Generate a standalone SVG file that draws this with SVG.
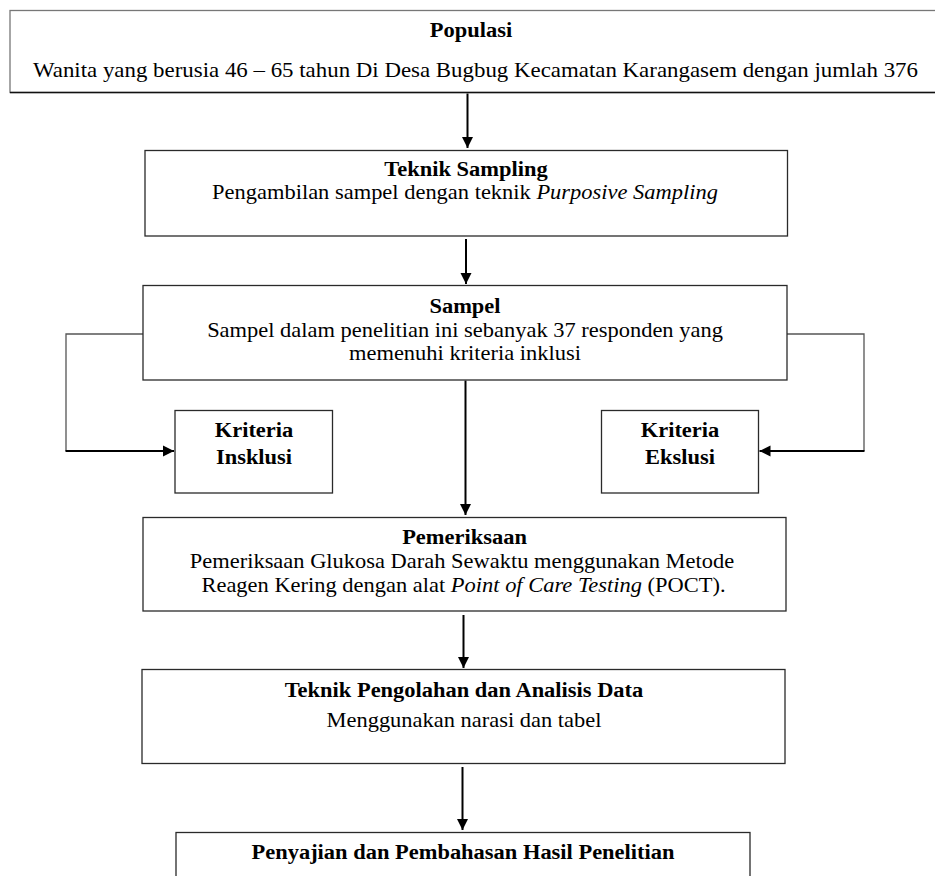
<svg xmlns="http://www.w3.org/2000/svg" width="935" height="876" viewBox="0 0 935 876">
<style>
  .box { fill: #ffffff; stroke: #2a2a2a; stroke-width: 1.3; }
  .t { font-family: "Liberation Serif", "Times New Roman", serif; font-size: 21px; fill: #000; text-anchor: middle; }
  .b { font-weight: bold; }
  .i { font-style: italic; }
  .arrow { stroke: #000; stroke-width: 2; fill: none; marker-end: url(#ah); }
  .side { stroke: #555; stroke-width: 1.3; fill: none; }
</style>
<defs>
  <marker id="ah" markerUnits="userSpaceOnUse" markerWidth="12" markerHeight="12" refX="11" refY="5.5" orient="auto" viewBox="0 0 12 11">
    <path d="M0,0 L11,5.5 L0,11 z" fill="#000"/>
  </marker>
</defs>
<rect width="935" height="876" fill="#ffffff"/>

<g id="connectors">
  <line class="arrow" x1="467.5" y1="93.5" x2="467.5" y2="148"/>
  <line class="arrow" x1="466" y1="239" x2="466" y2="284"/>
  <line class="arrow" x1="465.5" y1="380.5" x2="465.5" y2="515"/>
  <line class="arrow" x1="463.5" y1="615" x2="463.5" y2="668"/>
  <line class="arrow" x1="462.5" y1="767" x2="462.5" y2="830"/>
  <polyline class="side" points="143,334 66,334 66,451"/>
  <line class="arrow" x1="65.5" y1="451" x2="174" y2="451"/>
  <polyline class="side" points="787,334 864,334 864,451"/>
  <line class="arrow" x1="864.5" y1="451" x2="759.5" y2="451"/>
</g>

<g id="populasi">
  <rect class="box" x="10" y="10.5" width="940" height="82" style="stroke:#777"/>
  <line x1="10" y1="92.5" x2="935" y2="92.5" stroke="#111" stroke-width="1.6"/>
  <text class="t b" transform="translate(471,37) scale(1.07,1)">Populasi</text>
  <text class="t" x="475.5" y="77" textLength="885" lengthAdjust="spacingAndGlyphs">Wanita yang berusia 46 – 65 tahun Di Desa Bugbug Kecamatan Karangasem dengan jumlah 376</text>
</g>

<g id="teknik-sampling">
  <rect class="box" x="145" y="150.5" width="642.5" height="85.5"/>
  <text class="t b" transform="translate(466,176) scale(1.07,1)">Teknik Sampling</text>
  <text class="t" transform="translate(465,199) scale(1.07,1)">Pengambilan sampel dengan teknik <tspan class="i">Purposive Sampling</tspan></text>
</g>

<g id="sampel">
  <rect class="box" x="143" y="285.5" width="644" height="94.5"/>
  <text class="t b" transform="translate(465,313) scale(1.07,1)">Sampel</text>
  <text class="t" transform="translate(465,336.5) scale(1.07,1)">Sampel dalam penelitian ini sebanyak 37 responden yang</text>
  <text class="t" transform="translate(465,359.5) scale(1.07,1)">memenuhi kriteria inklusi</text>
</g>

<g id="kriteria-insklusi">
  <rect class="box" x="175" y="410.5" width="157.5" height="82.5"/>
  <text class="t b" transform="translate(254,437) scale(1.07,1)">Kriteria</text>
  <text class="t b" transform="translate(254,464) scale(1.07,1)">Insklusi</text>
</g>

<g id="kriteria-ekslusi">
  <rect class="box" x="601.5" y="410.5" width="157" height="82.5"/>
  <text class="t b" transform="translate(680,437) scale(1.07,1)">Kriteria</text>
  <text class="t b" transform="translate(680,464) scale(1.07,1)">Ekslusi</text>
</g>

<g id="pemeriksaan">
  <rect class="box" x="143" y="517.5" width="643" height="93.5"/>
  <text class="t b" transform="translate(464.5,543.5) scale(1.07,1)">Pemeriksaan</text>
  <text class="t" transform="translate(462,568) scale(1.07,1)">Pemeriksaan Glukosa Darah Sewaktu menggunakan Metode</text>
  <text class="t" transform="translate(463.5,592) scale(1.07,1)">Reagen Kering dengan alat <tspan class="i">Point of Care Testing</tspan> (POCT).</text>
</g>

<g id="teknik-pengolahan">
  <rect class="box" x="142" y="669.5" width="643" height="94"/>
  <text class="t b" transform="translate(464,697) scale(1.07,1)">Teknik Pengolahan dan Analisis Data</text>
  <text class="t" transform="translate(464,727) scale(1.07,1)">Menggunakan narasi dan tabel</text>
</g>

<g id="penyajian">
  <rect class="box" x="176" y="832.5" width="574" height="60"/>
  <text class="t b" transform="translate(463,858.5) scale(1.07,1)">Penyajian dan Pembahasan Hasil Penelitian</text>
</g>
</svg>
